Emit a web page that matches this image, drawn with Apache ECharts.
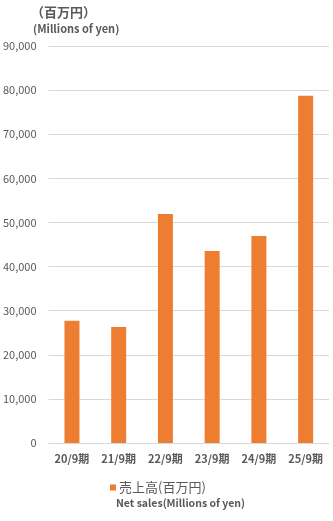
<!DOCTYPE html>
<html><head><meta charset="utf-8">
<script src="https://cdn.jsdelivr.net/npm/echarts@6/dist/echarts.min.js"></script>
<style>html,body{margin:0;padding:0;background:#fff}#c{width:333px;height:521px}</style>
</head><body><div id="c"></div>
<script>
const categories = ['20/9期','21/9期','22/9期','23/9期','24/9期','25/9期'];
const netSales = [27700, 26300, 51900, 43500, 46900, 78700];
const seriesName = '売上高(百万円)';
const seriesNameEn = 'Net sales(Millions of yen)';
const unitJa = '（百万円）';
const unitEn = '(Millions of yen)';
const FONT = '"Noto Sans CJK JP", "Noto Sans", sans-serif';
const chart = echarts.init(document.getElementById('c'));
chart.setOption({
  animation: false,
  textStyle: {fontFamily: FONT},
  graphic: [
    {type:'text', left: 31, top: 6, style:{text: unitJa, font:'bold 13px ' + FONT, fill:'#595959'}},
    {type:'text', left: 33, top: 23, style:{text: unitEn, font:'bold 11px ' + FONT, fill:'#595959'}},
    {type:'text', left: 116, top: 498, style:{text: seriesNameEn, font:'bold 10.5px ' + FONT, fill:'#595959'}}
  ],
  legend: {
    left: 105, top: 476,
    itemWidth: 6, itemHeight: 6, itemGap: 4,
    icon: 'rect',
    textStyle: {fontSize: 13, color: '#595959', fontFamily: FONT, padding:[0,0,0,-2]},
    data: [seriesName]
  },
  grid: {left: 48, right: 4, top: 46, bottom: 78, containLabel: false},
  xAxis: {
    type: 'category', data: categories,
    axisLine: {lineStyle: {color: '#d9d9d9'}},
    axisTick: {show: false},
    axisLabel: {color: '#595959', fontSize: 11, fontWeight: 'bold', margin: 10, fontFamily: FONT}
  },
  yAxis: {
    type: 'value', min: 0, max: 90000, interval: 10000,
    axisLine: {show: false}, axisTick: {show: false},
    splitLine: {lineStyle: {color: '#d9d9d9'}},
    axisLabel: {color: '#595959', fontSize: 11, margin: 12, fontFamily: FONT,
      formatter: v => v.toLocaleString('en-US')}
  },
  series: [{
    name: seriesName, type: 'bar', data: netSales,
    barWidth: 15,
    itemStyle: {color: '#ed7d31'}
  }]
});
</script></body></html>
